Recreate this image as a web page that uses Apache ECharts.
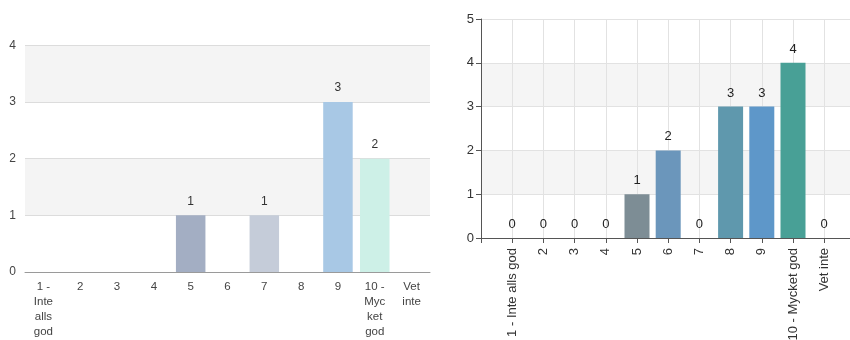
<!DOCTYPE html>
<html>
<head>
<meta charset="utf-8">
<script src="https://cdn.jsdelivr.net/npm/echarts@6/dist/echarts.min.js"></script>
<style>
  html, body { margin: 0; padding: 0; background: #fff; }
  #chart { width: 850px; height: 340px; }
</style>
</head>
<body>
<div id="chart"></div>
<script>
// Left panel: survey answers, scale 1–10 plus "don't know"
const leftCategories = ['1 -\nInte\nalls\ngod', '2', '3', '4', '5', '6', '7', '8', '9', '10 -\nMyc\nket\ngod', 'Vet\ninte'];
const leftValues = [0, 0, 0, 0, 1, 0, 1, 0, 3, 2, 0];
const leftColors = ['#a3aec3', '#a3aec3', '#a3aec3', '#a3aec3', '#a3aec3', '#c5ccd9', '#c5ccd9', '#a8c8e5', '#a8c8e5', '#cdf0e7', '#cdf0e7'];
const leftTicks = [0, 1, 2, 3, 4];

// Right panel: same scale, second group
const rightCategories = ['1 - Inte alls god', '2', '3', '4', '5', '6', '7', '8', '9', '10 - Mycket god', 'Vet inte'];
const rightValues = [0, 0, 0, 0, 1, 2, 0, 3, 3, 4, 0];
const rightColors = ['#7d8d95', '#7d8d95', '#7d8d95', '#7d8d95', '#7d8d95', '#6b96bb', '#6b96bb', '#5f98ad', '#5e97c9', '#48a096', '#48a096'];
const rightTicks = [0, 1, 2, 3, 4, 5];

const FONT = 'Liberation Sans, Arial, sans-serif';

// Right axis keeps half a band of padding on each side: pad the category list
const rightAxisData = [''].concat(rightCategories, ['']);
const rightSeriesData = [null].concat(rightValues.map((v, i) => ({
  value: v, itemStyle: { color: rightColors[i] }
})), [null]);

const leftSeriesData = leftValues.map((v, i) => ({
  value: v, itemStyle: { color: leftColors[i] },
  label: { show: v > 0 }
}));

const chart = echarts.init(document.getElementById('chart'), null, { renderer: 'canvas' });
chart.setOption({
  animation: false,
  backgroundColor: '#fff',
  textStyle: { fontFamily: FONT },
  grid: [
    { left: 25, top: 45.3, width: 405, height: 226.7, containLabel: false, outerBoundsMode: 'none' },
    { left: 481, top: 19, width: 374.4, height: 219, containLabel: false, outerBoundsMode: 'none' }
  ],
  xAxis: [
    {
      gridIndex: 0, type: 'category', data: leftCategories,
      axisLine: { show: true, lineStyle: { color: '#9a9a9a', width: 1 } },
      axisTick: { show: false },
      splitLine: { show: false },
      axisLabel: { color: '#444', fontSize: 11.5, fontFamily: FONT, lineHeight: 15, margin: 7, interval: 0 }
    },
    {
      gridIndex: 1, type: 'category', data: rightAxisData, boundaryGap: false,
      axisLine: { show: true, lineStyle: { color: '#555', width: 1 } },
      axisTick: { show: true, length: 5, interval: 0, lineStyle: { color: '#555' } },
      splitLine: { show: true, interval: 0, lineStyle: { color: '#e2e2e2', width: 1 } },
      axisLabel: { color: '#333', fontSize: 13, fontFamily: FONT, rotate: 90, margin: 10, interval: 0 }
    }
  ],
  yAxis: [
    {
      gridIndex: 0, type: 'value',
      min: leftTicks[0], max: leftTicks[leftTicks.length - 1], interval: 1,
      axisLine: { show: false }, axisTick: { show: false },
      splitLine: { show: true, lineStyle: { color: '#dcdcdc', width: 1 } },
      splitArea: { show: true, areaStyle: { color: ['#ffffff', '#f4f4f4'] } },
      axisLabel: { color: '#444', fontSize: 12, fontFamily: FONT, margin: 9 }
    },
    {
      gridIndex: 1, type: 'value',
      min: rightTicks[0], max: rightTicks[rightTicks.length - 1], interval: 1,
      axisLine: { show: true, lineStyle: { color: '#555', width: 1 } },
      axisTick: { show: true, length: 5, lineStyle: { color: '#555' } },
      splitLine: { show: true, lineStyle: { color: '#e2e2e2', width: 1 } },
      splitArea: { show: true, areaStyle: { color: ['#ffffff', '#f5f5f5'] } },
      axisLabel: { color: '#333', fontSize: 13, fontFamily: FONT, margin: 7 }
    }
  ],
  series: [
    {
      type: 'bar', xAxisIndex: 0, yAxisIndex: 0,
      data: leftSeriesData, barWidth: 29.5,
      label: { position: 'top', distance: 8, color: '#333', fontSize: 12, fontFamily: FONT }
    },
    {
      type: 'bar', xAxisIndex: 1, yAxisIndex: 1,
      data: rightSeriesData, barWidth: 25,
      label: { show: true, position: 'top', distance: 7, color: '#222', fontSize: 13, fontFamily: FONT }
    }
  ]
});
</script>
</body>
</html>
